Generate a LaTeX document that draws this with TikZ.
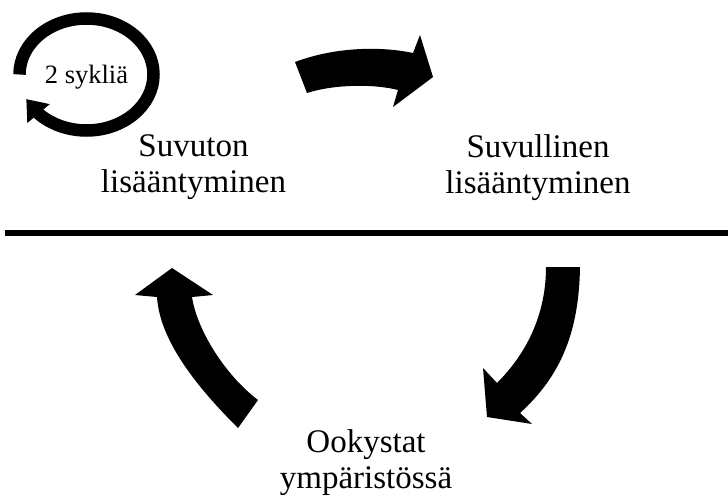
\documentclass[tikz,border=0pt]{standalone}
\usepackage{fontspec}
\setmainfont{Liberation Serif}
\usetikzlibrary{positioning, arrows.meta, bending}

\tikzset{
    stage/.style = {align = center, inner sep = 0pt, font = \fontsize{33}{36}\selectfont},
    blockarrow/.style = {fill = black, draw = none}
}

\begin{document}
\begin{tikzpicture}[x = 1pt, y = -1pt]
                    \useasboundingbox (0, 0) rectangle (728, 498);

                    \node [stage] (asex) at (193.5, 167.5) {Suvuton\\lisääntyminen};
                    \node [stage] (sex) at (538, 167.5) {Suvullinen\\lisääntyminen};
                    \node [stage] (oocyst) at (366, 462.5) {Ookystat\\ympäristössä};
                    \node [anchor = base, inner sep = 0pt, font = \fontsize{26.5}{28}\selectfont] (cycles) at (86.5, 83) {2 sykliä};

                    \coordinate (loopstart) at (19.5, 74.5);
                    \draw [line width = 12.5pt, -{Triangle[width = 28pt, length = 19pt]}]
                        (loopstart) arc [start angle = 180, end angle = 514, x radius = 67, y radius = 56];

                    \fill [black] (5, 229.5) rectangle (728, 236);

                    \fill [blockarrow] (295, 62) .. controls (335, 47) and (380, 46) .. (413, 53)
                        -- (420, 35) -- (433, 77) -- (393, 107) -- (398, 90)
                        .. controls (375, 84) and (335, 84) .. (307, 93) -- cycle;

                    \fill [blockarrow] (546, 267) -- (580, 267)
                        .. controls (579, 330) and (562, 375) .. (520, 413)
                        -- (532, 424) -- (487, 417) -- (483, 368) -- (497, 383)
                        .. controls (530, 350) and (546, 310) .. cycle;

                    \fill [blockarrow] (172, 268) -- (213, 295) -- (192, 297)
                        .. controls (197, 330) and (225, 375) .. (258, 400)
                        -- (238, 428)
                        .. controls (205, 395) and (160, 345) .. (157, 297)
                        -- (135, 295) -- cycle;
                \end{tikzpicture}
\end{document}
